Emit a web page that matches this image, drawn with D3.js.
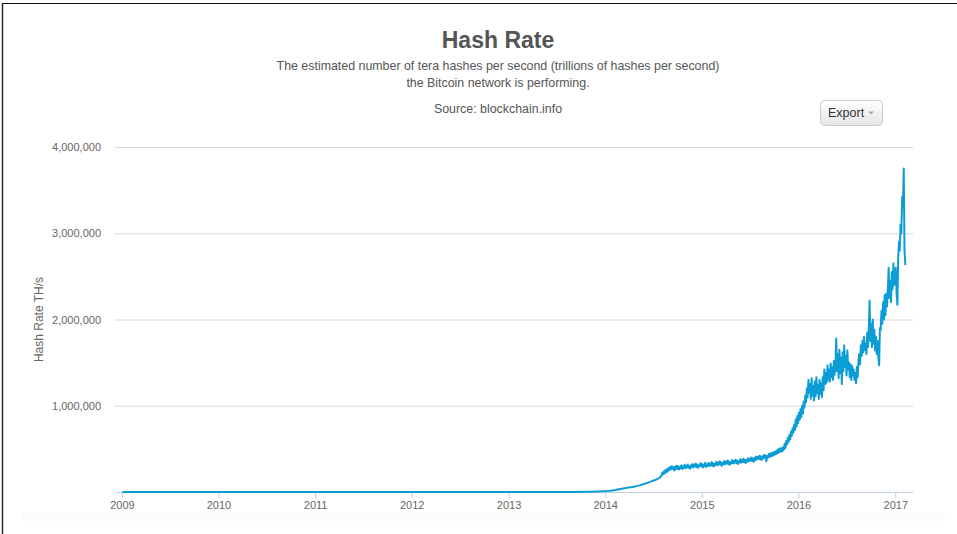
<!DOCTYPE html>
<head>
    <meta charset="utf-8">
    <script type="text/javascript" src="https://d3js.org/d3.v7.min.js"></script>

    <style>
        body {
            margin: 0;
            background: #fff;
        }

        .chart text {
            font-family: "Liberation Sans", Arial, sans-serif;
        }

        .title {
            fill: #555;
            font-size: 23px;
            font-weight: bold;
            text-anchor: middle;
        }

        .subtitle {
            fill: #555;
            font-size: 12.4px;
            text-anchor: middle;
        }

        .y-axis line {
            stroke: #d8d8d8;
        }

        .y-axis text, .x-axis text {
            fill: #666;
            font-size: 11px;
        }

        .x-axis line, .x-axis path {
            stroke: #c0d0e0;
        }

        .hash-line {
            fill: none;
            stroke: #0d9dd6;
            stroke-width: 2;
            stroke-linejoin: round;
        }
    </style>
</head>

<svg class="chart" width="957" height="534"></svg>

<script>

    // hash rate, TH/s
    var earlyDates = ["2009-01-03", "2010-01-01", "2011-01-01", "2012-01-01", "2012-07-01",
                      "2013-01-01", "2013-06-01", "2013-09-01", "2013-11-01", "2013-12-01", "2013-12-29"];
    var earlyValues = [0.000005, 0.0001, 0.01, 8, 15, 23, 110, 900, 4000, 7000, 10000];

    // one value a week from weeklyStart
    var weeklyStart = "2014-01-05";
    var weeklyValues = [
        11000, 13000, 15000, 18000, 21000, 24000, 28000, 32000, 36000, 40000,
        44000, 48000, 51000, 55000, 58000, 62000, 66000, 71000, 77000, 84000,
        90000, 97000, 104000, 112000, 120000, 128000, 136000, 145000, 155000, 168000
    ];

    // one value every 3 days from midStart
    var midStart = "2014-08-02";
    var midValues = [
        190000, 225000, 205000, 240000, 215000, 255000, 230000, 265000, 240000, 280000,
        255000, 290000, 265000, 300000, 270000, 285000, 250000, 295000, 265000, 305000,
        270000, 300000, 260000, 290000, 275000, 310000, 265000, 295000, 280000, 315000,
        275000, 305000, 285000, 320000, 280000, 300000, 270000, 310000, 290000, 325000,
        285000, 315000, 295000, 330000, 290000, 320000, 280000, 310000, 300000, 335000,
        295000, 325000, 285000, 315000, 300000, 340000, 290000, 320000, 305000, 335000,
        300000, 330000, 310000, 345000, 305000, 335000, 295000, 325000, 315000, 350000,
        310000, 340000, 320000, 355000, 315000, 345000, 305000, 335000, 325000, 360000,
        320000, 350000, 330000, 365000, 325000, 355000, 315000, 345000, 335000, 370000,
        330000, 360000, 340000, 375000, 335000, 365000, 325000, 355000, 345000, 380000,
        340000, 370000, 350000, 385000, 345000, 375000, 335000, 370000, 355000, 390000,
        355000, 385000, 365000, 400000, 360000, 390000, 350000, 395000, 370000, 410000,
        375000, 405000, 385000, 420000, 380000, 415000, 370000, 410000, 390000, 430000,
        395000, 425000, 355000, 415000, 400000, 440000, 405000, 445000, 415000, 455000,
        420000, 460000, 430000, 470000, 440000, 480000, 450000, 495000, 460000, 505000,
        470000, 510000
    ];

    // one value every 3 days from recentStart
    var recentStart = "2015-11-01";
    var recentValues = [
        470000, 520000, 490000, 560000, 510000, 590000, 550000, 630000, 580000, 660000,
        610000, 700000, 650000, 740000, 690000, 780000, 720000, 840000, 760000, 880000,
        800000, 920000, 840000, 960000, 870000, 1000000, 910000, 1050000, 980000, 1120000,
        1040000, 1200000, 1100000, 1300000, 1150000, 1250000, 1080000, 1320000, 1120000, 1230000,
        1060000, 1280000, 1110000, 1330000, 1150000, 1240000, 1080000, 1300000, 1140000, 1260000,
        1100000, 1330000, 1180000, 1420000, 1250000, 1380000, 1270000, 1470000, 1300000, 1420000,
        1280000, 1490000, 1330000, 1450000, 1300000, 1520000, 1360000, 1470000, 1780000, 1400000,
        1600000, 1320000, 1650000, 1380000, 1560000, 1250000, 1620000, 1400000, 1700000, 1450000,
        1580000, 1350000, 1640000, 1420000, 1500000, 1330000, 1480000, 1300000, 1460000, 1350000,
        1420000, 1300000, 1380000, 1260000, 1450000, 1330000, 1520000, 1600000, 1480000, 1700000,
        1580000, 1750000, 1620000, 1800000, 1650000, 1720000, 1600000, 1850000, 1680000, 1900000,
        2220000, 1750000, 1950000, 1680000, 2000000, 1720000, 1880000, 1640000, 1800000, 1600000,
        1750000, 1560000, 1470000, 1900000, 1880000, 2100000, 1950000, 2200000, 2000000, 2280000,
        2050000, 2300000, 2150000, 2350000, 2600000, 2250000, 2450000, 2200000, 2550000, 2350000,
        2650000, 2400000, 2500000, 2600000, 2300000, 2170000, 2700000, 2900000, 2800000, 3100000,
        3000000, 3420000, 3300000, 3750000, 2800000, 2630000
    ];

    var yTicks = [1000000, 2000000, 3000000, 4000000];
    var yearTicks = ["2009", "2010", "2011", "2012", "2013", "2014", "2015", "2016", "2017"];

    var parseDay = d3.utcParse("%Y-%m-%d"),
        parseYear = d3.utcParse("%Y");

    var data = [];
    earlyDates.forEach(function(d, i) {
        data.push({ date: parseDay(d), value: earlyValues[i] });
    });
    weeklyValues.forEach(function(v, i) {
        data.push({ date: d3.utcDay.offset(parseDay(weeklyStart), 7 * i), value: v });
    });
    midValues.forEach(function(v, i) {
        data.push({ date: d3.utcDay.offset(parseDay(midStart), 3 * i), value: v });
    });
    recentValues.forEach(function(v, i) {
        data.push({ date: d3.utcDay.offset(parseDay(recentStart), 3 * i), value: v });
    });

    var plotLeft = 115, plotRight = 913, plotTop = 147, plotBottom = 492;

    var x = d3.scaleUtc()
        .domain([parseDay("2008-12-06"), parseDay("2017-03-09")])
        .range([plotLeft, plotRight]);

    var y = d3.scaleLinear()
        .domain([0, 4000000])
        .range([plotBottom, plotTop]);

    var chart = d3.select(".chart");

    // frame lines
    chart.append("line")
        .attr("x1", 2).attr("x2", 957).attr("y1", 3.5).attr("y2", 3.5)
        .attr("stroke", "#111");
    chart.append("line")
        .attr("x1", 2.5).attr("x2", 2.5).attr("y1", 3).attr("y2", 534)
        .attr("stroke", "#222").attr("stroke-width", 1.4);

    chart.append("rect")
        .attr("x", 22).attr("y", 513).attr("width", 923).attr("height", 8)
        .attr("fill", "#fafafa");

    // titles
    chart.append("text").attr("class", "title")
        .attr("x", 498).attr("y", 48)
        .text("Hash Rate");
    chart.append("text").attr("class", "subtitle")
        .attr("x", 498).attr("y", 70)
        .text("The estimated number of tera hashes per second (trillions of hashes per second)");
    chart.append("text").attr("class", "subtitle")
        .attr("x", 498).attr("y", 87)
        .text("the Bitcoin network is performing.");
    chart.append("text").attr("class", "subtitle")
        .attr("x", 498).attr("y", 113)
        .text("Source: blockchain.info");

    // export button
    var grad = chart.append("defs").append("linearGradient")
        .attr("id", "btn").attr("x1", 0).attr("x2", 0).attr("y1", 0).attr("y2", 1);
    grad.append("stop").attr("offset", "0%").attr("stop-color", "#ffffff");
    grad.append("stop").attr("offset", "100%").attr("stop-color", "#e6e6e6");

    var btn = chart.append("g").attr("transform", "translate(820,100)");
    btn.append("rect")
        .attr("x", 0.5).attr("y", 0.5).attr("width", 62).attr("height", 25).attr("rx", 4)
        .attr("fill", "url(#btn)").attr("stroke", "#ccc");
    btn.append("text")
        .attr("x", 8).attr("y", 17)
        .attr("fill", "#333").style("font-size", "12.5px")
        .text("Export");
    btn.append("path")
        .attr("d", "M48,11.5 L54,11.5 L51,14.5 Z")
        .attr("fill", "#aaa");

    // y axis with grid
    chart.append("g")
        .attr("class", "y-axis")
        .attr("transform", "translate(" + plotLeft + ",0)")
        .call(d3.axisLeft(y)
            .tickValues(yTicks)
            .tickSize(-(plotRight - plotLeft))
            .tickPadding(14)
            .tickFormat(d3.format(",")))
        .call(function(g) { g.select(".domain").remove(); });

    chart.append("text")
        .attr("transform", "translate(43," + ((plotTop + plotBottom) / 2) + ") rotate(-90)")
        .attr("text-anchor", "middle")
        .attr("fill", "#666")
        .style("font-size", "12px")
        .text("Hash Rate TH/s");

    // x axis
    chart.append("g")
        .attr("class", "x-axis")
        .attr("transform", "translate(0," + plotBottom + ")")
        .call(d3.axisBottom(x)
            .tickValues(yearTicks.map(function(d) { return parseYear(d); }))
            .tickSizeInner(6)
            .tickSizeOuter(0)
            .tickPadding(3)
            .tickFormat(d3.utcFormat("%Y")));

    // series
    var line = d3.line()
        .x(function(d) { return x(d.date); })
        .y(function(d) { return y(d.value); });

    chart.append("path")
        .datum(data)
        .attr("class", "hash-line")
        .attr("d", line);

</script>
